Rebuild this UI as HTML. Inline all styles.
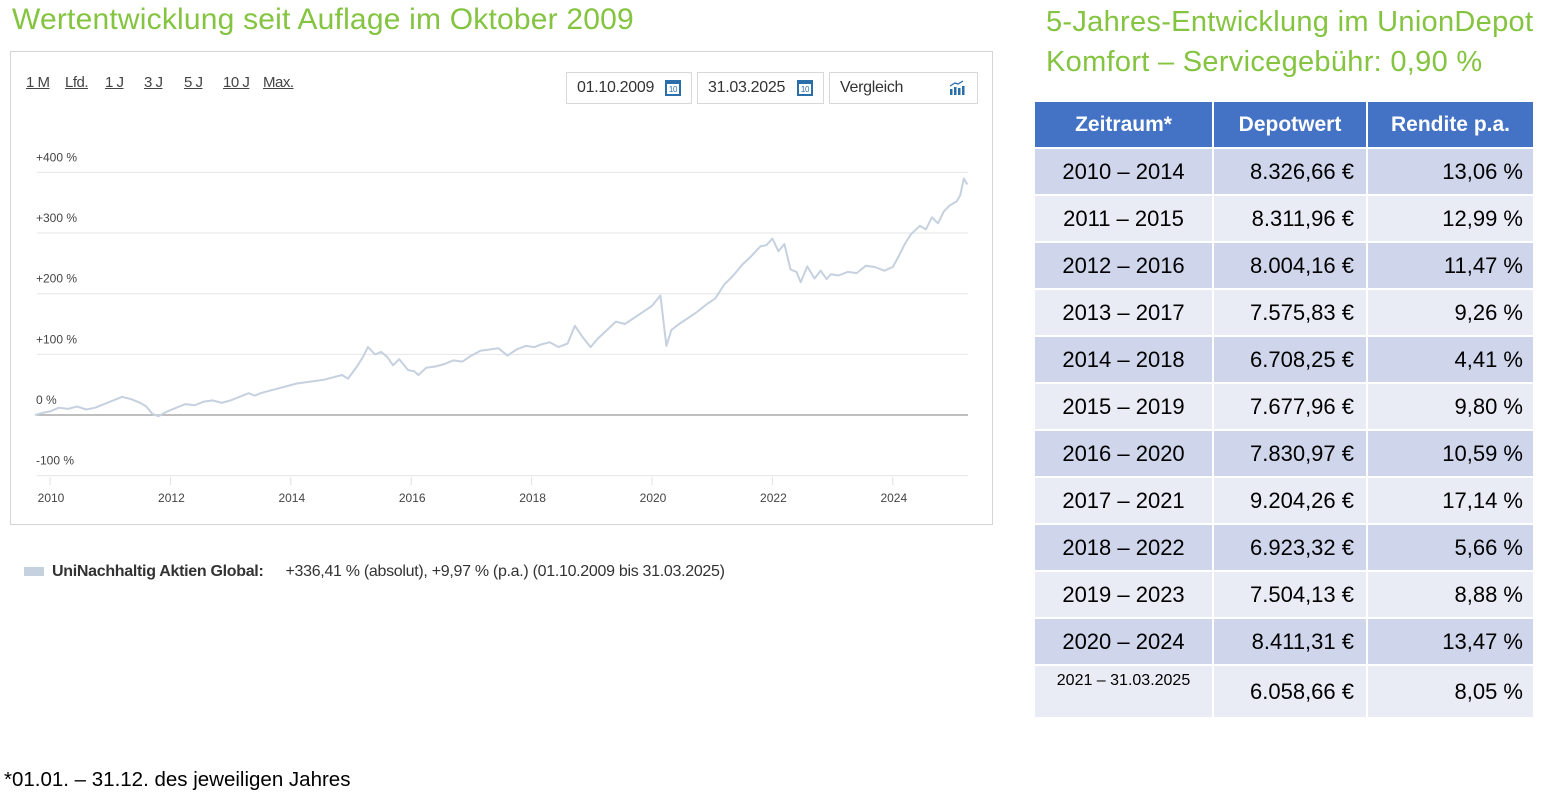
<!DOCTYPE html>
<html><head><meta charset="utf-8"><style>
body{margin:0;width:1542px;height:800px;background:#fff;position:relative;overflow:hidden;font-family:"Liberation Sans",sans-serif}
.t{position:absolute;color:#84c441;font-size:29px;white-space:nowrap;letter-spacing:-0.2px}
#panel{position:absolute;left:10px;top:51px;width:983px;height:474px;border:1px solid #d4d4d4;box-sizing:border-box}
.lnk{position:absolute;top:74px;font-size:15px;color:#444;text-decoration:underline;letter-spacing:-0.5px}
.box{position:absolute;top:72px;height:32px;border:1px solid #d8d8d8;box-sizing:border-box;font-size:16px;color:#333;line-height:30px;padding-left:10px;letter-spacing:-0.3px}
table{position:absolute;left:1033px;top:100px;border-collapse:collapse}
td,th{border:2px solid #fff;height:45px;padding:0;font-size:22px;color:#000}
th{background:#4472c4;color:#fff;font-weight:bold;font-size:21px;height:45px}
tr.a td{background:#cfd5ea}tr.b td{background:#e9ebf5}
td.c1{width:177px;text-align:center}td.c2{width:140px;text-align:right;padding-right:12px}td.c3{width:155px;text-align:right;padding-right:10px}
</style></head><body>
<div class="t" style="left:12px;top:3px;font-size:30px;letter-spacing:0.2px">Wertentwicklung seit Auflage im Oktober 2009</div>
<div class="t" style="left:1046px;top:2px;line-height:40px;letter-spacing:0.3px">5-Jahres-Entwicklung im UnionDepot<br>Komfort – Servicegebühr: 0,90 %</div>
<div id="panel"></div>
<span class="lnk" style="left:26px">1 M</span>
<span class="lnk" style="left:65px">Lfd.</span>
<span class="lnk" style="left:105px">1 J</span>
<span class="lnk" style="left:144px">3 J</span>
<span class="lnk" style="left:184px">5 J</span>
<span class="lnk" style="left:223px">10 J</span>
<span class="lnk" style="left:263px">Max.</span>
<div class="box" style="left:566px;width:126px">01.10.2009<span style="position:absolute;right:10px;top:7px;width:16px;height:16px;border:2px solid #2a6eaa;box-sizing:border-box;font-size:8px;line-height:12px;text-align:center;color:#2a6eaa;border-top-width:4px">10</span></div>
<div class="box" style="left:697px;width:127px">31.03.2025<span style="position:absolute;right:10px;top:7px;width:16px;height:16px;border:2px solid #2a6eaa;box-sizing:border-box;font-size:8px;line-height:12px;text-align:center;color:#2a6eaa;border-top-width:4px">10</span></div>
<div class="box" style="left:829px;width:149px">Vergleich<svg style="position:absolute;right:12px;top:7px" width="16" height="16"><rect x="1" y="9" width="2.5" height="6" fill="#2a6eaa"/><rect x="5" y="7" width="2.5" height="8" fill="#2a6eaa"/><rect x="9" y="8" width="2.5" height="7" fill="#2a6eaa"/><rect x="13" y="6" width="2.5" height="9" fill="#2a6eaa"/><path d="M1 6 L6 3 L9 4 L14 1" stroke="#2a6eaa" fill="none" stroke-width="1.3"/></svg></div>
<svg id="ch" width="1000" height="520" style="position:absolute;left:0;top:0"></svg>
<div style="position:absolute;left:24px;top:563px;font-size:16px;color:#333;white-space:nowrap;letter-spacing:-0.3px">
<span style="display:inline-block;width:20px;height:9px;background:#c6d1df;margin-right:8px"></span><b>UniNachhaltig Aktien Global:</b><span style="margin-left:22px">+336,41 % (absolut), +9,97 % (p.a.) (01.10.2009 bis 31.03.2025)</span></div>
<table>
<tr><th>Zeitraum*</th><th>Depotwert</th><th>Rendite p.a.</th></tr>
<tr class="a"><td class="c1">2010 – 2014</td><td class="c2">8.326,66 €</td><td class="c3">13,06 %</td></tr>
<tr class="b"><td class="c1">2011 – 2015</td><td class="c2">8.311,96 €</td><td class="c3">12,99 %</td></tr>
<tr class="a"><td class="c1">2012 – 2016</td><td class="c2">8.004,16 €</td><td class="c3">11,47 %</td></tr>
<tr class="b"><td class="c1">2013 – 2017</td><td class="c2">7.575,83 €</td><td class="c3">9,26 %</td></tr>
<tr class="a"><td class="c1">2014 – 2018</td><td class="c2">6.708,25 €</td><td class="c3">4,41 %</td></tr>
<tr class="b"><td class="c1">2015 – 2019</td><td class="c2">7.677,96 €</td><td class="c3">9,80 %</td></tr>
<tr class="a"><td class="c1">2016 – 2020</td><td class="c2">7.830,97 €</td><td class="c3">10,59 %</td></tr>
<tr class="b"><td class="c1">2017 – 2021</td><td class="c2">9.204,26 €</td><td class="c3">17,14 %</td></tr>
<tr class="a"><td class="c1">2018 – 2022</td><td class="c2">6.923,32 €</td><td class="c3">5,66 %</td></tr>
<tr class="b"><td class="c1">2019 – 2023</td><td class="c2">7.504,13 €</td><td class="c3">8,88 %</td></tr>
<tr class="a"><td class="c1">2020 – 2024</td><td class="c2">8.411,31 €</td><td class="c3">13,47 %</td></tr>
<tr class="b"><td class="c1" style="font-size:16px;vertical-align:top;padding-top:6px">2021 – 31.03.2025</td><td class="c2">6.058,66 €</td><td class="c3">8,05 %</td></tr>
</table>
<div style="position:absolute;left:4px;top:768px;font-size:20.5px;color:#000">*01.01. – 31.12. des jeweiligen Jahres</div>
<script>
const yTicks=[400,300,200,100,0,-100];
const yLabels=["+400 %","+300 %","+200 %","+100 %","0 %","-100 %"];
const xTicks=[2010,2012,2014,2016,2018,2020,2022,2024];
const years=[2009.75,2009.9,2010.0,2010.15,2010.3,2010.45,2010.6,2010.75,2010.9,2011.05,2011.2,2011.35,2011.5,2011.6,2011.7,2011.8,2011.95,2012.1,2012.25,2012.4,2012.55,2012.7,2012.85,2013.0,2013.15,2013.3,2013.4,2013.5,2013.65,2013.8,2013.95,2014.1,2014.25,2014.4,2014.55,2014.7,2014.85,2014.95,2015.1,2015.2,2015.28,2015.4,2015.5,2015.6,2015.7,2015.8,2015.95,2016.05,2016.12,2016.25,2016.4,2016.55,2016.7,2016.85,2017.0,2017.15,2017.3,2017.45,2017.6,2017.75,2017.9,2018.05,2018.15,2018.3,2018.45,2018.6,2018.72,2018.85,2018.98,2019.1,2019.25,2019.4,2019.55,2019.7,2019.85,2020.0,2020.14,2020.24,2020.32,2020.45,2020.6,2020.75,2020.9,2021.05,2021.2,2021.35,2021.5,2021.65,2021.8,2021.9,2022.0,2022.1,2022.2,2022.3,2022.4,2022.47,2022.58,2022.7,2022.8,2022.9,2022.97,2023.1,2023.25,2023.4,2023.55,2023.7,2023.86,2024.0,2024.1,2024.2,2024.3,2024.45,2024.55,2024.65,2024.75,2024.85,2024.95,2025.06,2025.12,2025.18,2025.24];
const values=[0,4,6,12,10,14,9,12,18,24,30,26,20,14,2,-2,6,12,18,16,22,24,20,24,30,36,32,36,40,44,48,52,54,56,58,62,66,60,80,96,112,100,104,96,82,92,74,72,66,78,80,84,90,88,98,106,108,110,98,108,114,112,116,120,112,118,147,128,112,126,140,154,150,160,170,180,197,114,140,150,160,170,182,192,215,230,248,262,278,280,291,270,282,240,236,219,245,225,238,224,232,230,236,234,246,244,238,244,262,282,298,312,306,326,316,336,346,352,362,390,380,338,340];
const svg=document.getElementById('ch');const NS='http://www.w3.org/2000/svg';
const X=y=>50+(y-2010)*60.2, Y=v=>415-v*0.6065;
function el(t,a){const e=document.createElementNS(NS,t);for(const k in a)e.setAttribute(k,a[k]);svg.appendChild(e);return e;}
yTicks.forEach((v,i)=>{
 const g=el('line',{x1:37,x2:968,y1:Y(v),y2:Y(v),stroke:v===0?'#aaa':'#e6e6e6','stroke-width':v===0?1.5:1});
 
 
 const t=el('text',{x:36,y:Y(v)-11,'font-size':12,fill:'#444','font-family':'Liberation Sans'});t.textContent=yLabels[i];
 
 
});
xTicks.forEach(yr=>{
 const l=el('line',{x1:X(yr),x2:X(yr),y1:477,y2:485,stroke:'#e0e0e0'});
 
 
 const t=el('text',{x:X(yr)+1,y:502,'font-size':12,fill:'#444','text-anchor':'middle','font-family':'Liberation Sans'});t.textContent=yr;
 
 
});
const p=el('path',{d:years.map((y,i)=>(i?'L':'M')+X(y).toFixed(1)+','+Y(values[i]).toFixed(1)).join(''),fill:'none',stroke:'#c6d1df','stroke-width':2,'stroke-linejoin':'round'});


</script>
</body></html>
